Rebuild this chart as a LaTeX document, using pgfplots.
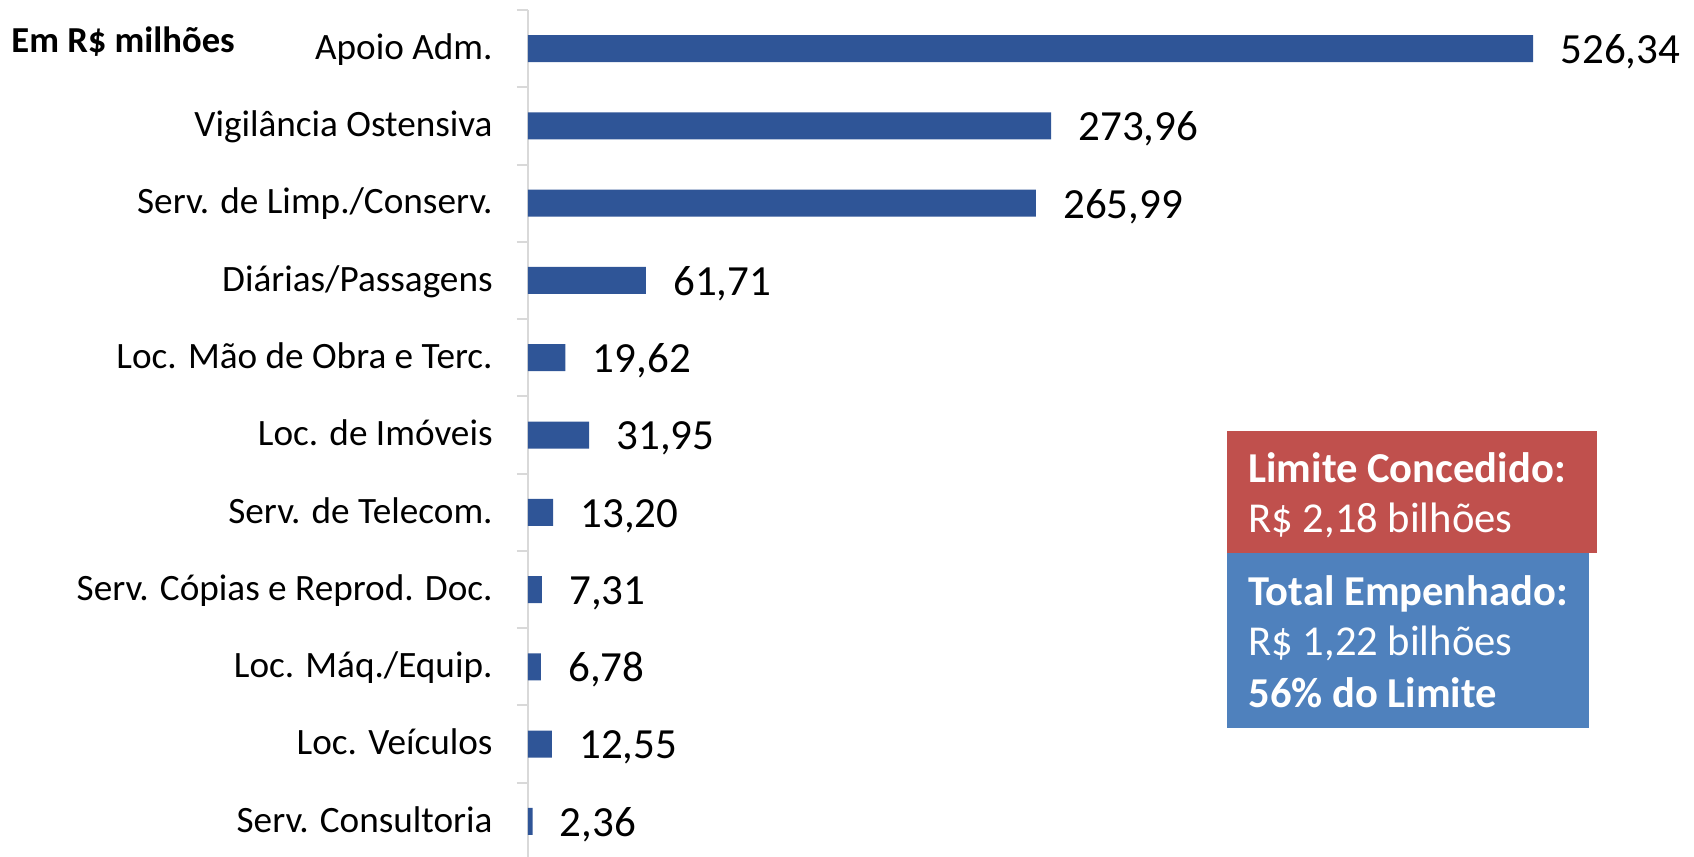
\documentclass[border=0pt]{standalone}
\usepackage{pgfplots}
\pgfplotsset{compat=1.18}
\usepackage{fontspec}
\setmainfont{Carlito}
\definecolor{barblue}{HTML}{2F5597}
\definecolor{boxred}{HTML}{C0504D}
\definecolor{boxblue}{HTML}{4F81BD}
\definecolor{axgray}{HTML}{D9D9D9}
\begin{document}
\begin{tikzpicture}
\begin{axis}[
  at={(264pt,-5pt)}, anchor=north west,
  scale only axis, width=502.5pt, height=425pt,
  xmin=0, xmax=526.34, ymin=-0.5, ymax=10.5,
  axis x line=none, axis y line*=left,
  y axis line style={draw=axgray, line width=1pt},
  clip=false,
  ytick={0,...,10},
  yticklabels={Serv. Consultoria, Loc. Veículos, Loc. Máq./Equip., Serv. Cópias e Reprod. Doc., Serv. de Telecom., Loc. de Imóveis, Loc. Mão de Obra e Terc., Diárias/Passagens, Serv. de Limp./Conserv., Vigilância Ostensiva, Apoio Adm.},
  major tick length=0pt,
  minor ytick={-0.5,0.5,...,10.5},
  minor tick length=5.5pt,
  tick align=outside, ytick pos=left,
  minor tick style={draw=axgray, line width=1pt},
  yticklabel style={font=\fontsize{18.6}{21}\selectfont, anchor=east, inner sep=0pt, xshift=-17.5pt, yshift=-2.2pt, text height=0.64em, text depth=0pt},
  xbar, bar width=13.5pt, bar shift=0pt,
  point meta=explicit symbolic,
  nodes near coords,
  every node near coord/.append style={font=\fontsize{21.5}{24}\selectfont, anchor=west, inner sep=0pt, xshift=13.5pt, yshift=-4.3pt, text height=0.63em, text depth=0pt, text=black},
]
\addplot[fill=barblue, draw=none] table[x=v, y=p, meta=l] {
v p l
526.34 10 526,34
273.96 9 273,96
265.99 8 265,99
61.71 7 61,71
19.62 6 19,62
31.95 5 31,95
13.20 4 13,20
7.31 3 7,31
6.78 2 6,78
12.55 1 12,55
2.36 0 2,36
};
\end{axis}
\node[anchor=west, inner sep=0pt, font=\bfseries\fontsize{18.3}{21}\selectfont] at (5.5pt,-21pt) {Em R\$ milhões};
\fill[boxred] (613.5pt,-215.5pt) rectangle (798.5pt,-276.5pt);
\fill[boxblue] (613.5pt,-276.5pt) rectangle (794.5pt,-364pt);
\begin{scope}[every node/.style={anchor=base west, inner sep=0pt, text=white, font=\fontsize{21.3}{24}\selectfont}]
\node at (624pt,-241pt) {\bfseries Limite Concedido:};
\node at (624pt,-266pt) {R\$ 2,18 bilhões};
\node at (624pt,-302.5pt) {\bfseries Total Empenhado:};
\node at (624pt,-327.5pt) {R\$ 1,22 bilhões};
\node at (624pt,-353.5pt) {\bfseries 56\% do Limite};
\end{scope}
\pgfresetboundingbox
\path[use as bounding box] (0,0) rectangle (847pt,-428.5pt);
\end{tikzpicture}
\end{document}
